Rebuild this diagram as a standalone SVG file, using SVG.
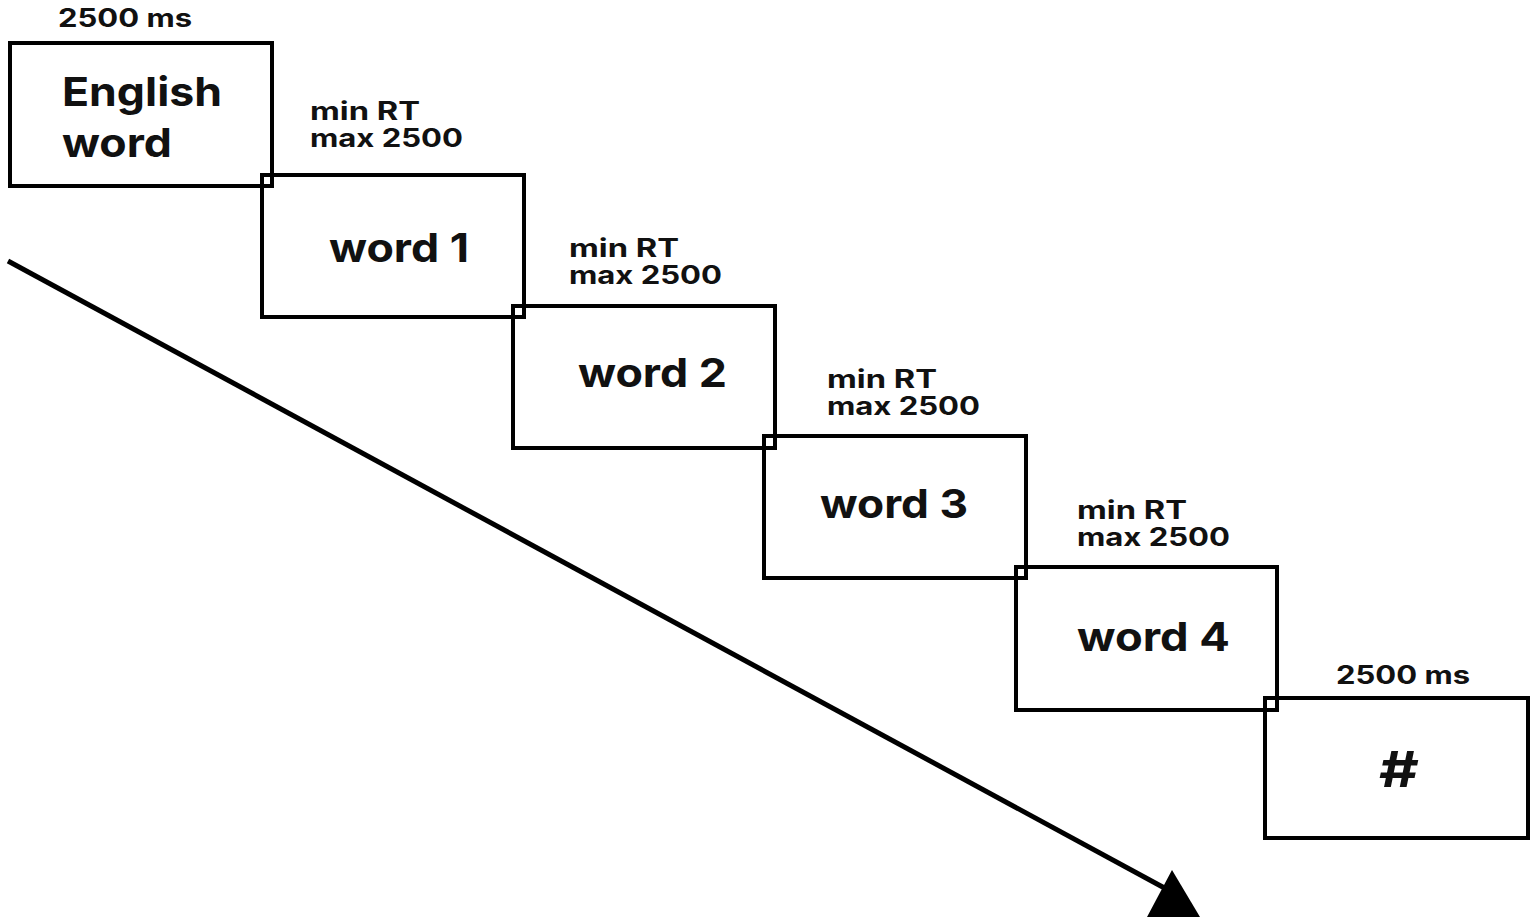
<svg xmlns="http://www.w3.org/2000/svg" width="1535" height="924" viewBox="0 0 1535 924">
<style>
.box{fill:none;stroke:#000;stroke-width:4}
.big{font-family:Inter,"DejaVu Sans",sans-serif;font-weight:700;font-size:40px;fill:#111}
.small{font-family:Inter,"DejaVu Sans",sans-serif;font-weight:700;font-size:25px;fill:#111}
</style>
<rect width="1535" height="924" fill="#fff"/>
<g id="connectors">
<line x1="8" y1="261" x2="1170" y2="891" stroke="#000" stroke-width="5"/>
<polygon points="1172,870 1147,917 1200,917" fill="#000"/>
</g>
<g id="node0">
<rect class="box" x="10" y="43" width="262" height="143"/>
<text class="small" x="58" y="27" textLength="134" lengthAdjust="spacingAndGlyphs">2500 ms</text>
<text class="big" x="62" y="106" textLength="160" lengthAdjust="spacingAndGlyphs">English</text>
<text class="big" x="62" y="157" textLength="110" lengthAdjust="spacingAndGlyphs">word</text>
</g>
<g id="node1">
<rect class="box" x="262" y="175" width="262" height="142"/>
<text class="small" x="310" y="120" textLength="110" lengthAdjust="spacingAndGlyphs">min RT</text>
<text class="small" x="310" y="147" textLength="153" lengthAdjust="spacingAndGlyphs">max 2500</text>
<text class="big" x="329" y="262" textLength="140" lengthAdjust="spacingAndGlyphs">word 1</text>
</g>
<g id="node2">
<rect class="box" x="513" y="306" width="262" height="142"/>
<text class="small" x="569" y="257" textLength="110" lengthAdjust="spacingAndGlyphs">min RT</text>
<text class="small" x="569" y="284" textLength="153" lengthAdjust="spacingAndGlyphs">max 2500</text>
<text class="big" x="578" y="387" textLength="149" lengthAdjust="spacingAndGlyphs">word 2</text>
</g>
<g id="node3">
<rect class="box" x="764" y="436" width="262" height="142"/>
<text class="small" x="827" y="388" textLength="110" lengthAdjust="spacingAndGlyphs">min RT</text>
<text class="small" x="827" y="415" textLength="153" lengthAdjust="spacingAndGlyphs">max 2500</text>
<text class="big" x="820" y="518" textLength="148" lengthAdjust="spacingAndGlyphs">word 3</text>
</g>
<g id="node4">
<rect class="box" x="1016" y="567" width="261" height="143"/>
<text class="small" x="1077" y="519" textLength="110" lengthAdjust="spacingAndGlyphs">min RT</text>
<text class="small" x="1077" y="546" textLength="153" lengthAdjust="spacingAndGlyphs">max 2500</text>
<text class="big" x="1077" y="651" textLength="153" lengthAdjust="spacingAndGlyphs">word 4</text>
</g>
<g id="node5">
<rect class="box" x="1265" y="698" width="263" height="140"/>
<text class="small" x="1336" y="684" textLength="134" lengthAdjust="spacingAndGlyphs">2500 ms</text>
<text class="big" x="1379" y="787" style="font-size:50px" textLength="40" lengthAdjust="spacingAndGlyphs">#</text>
</g>
</svg>
